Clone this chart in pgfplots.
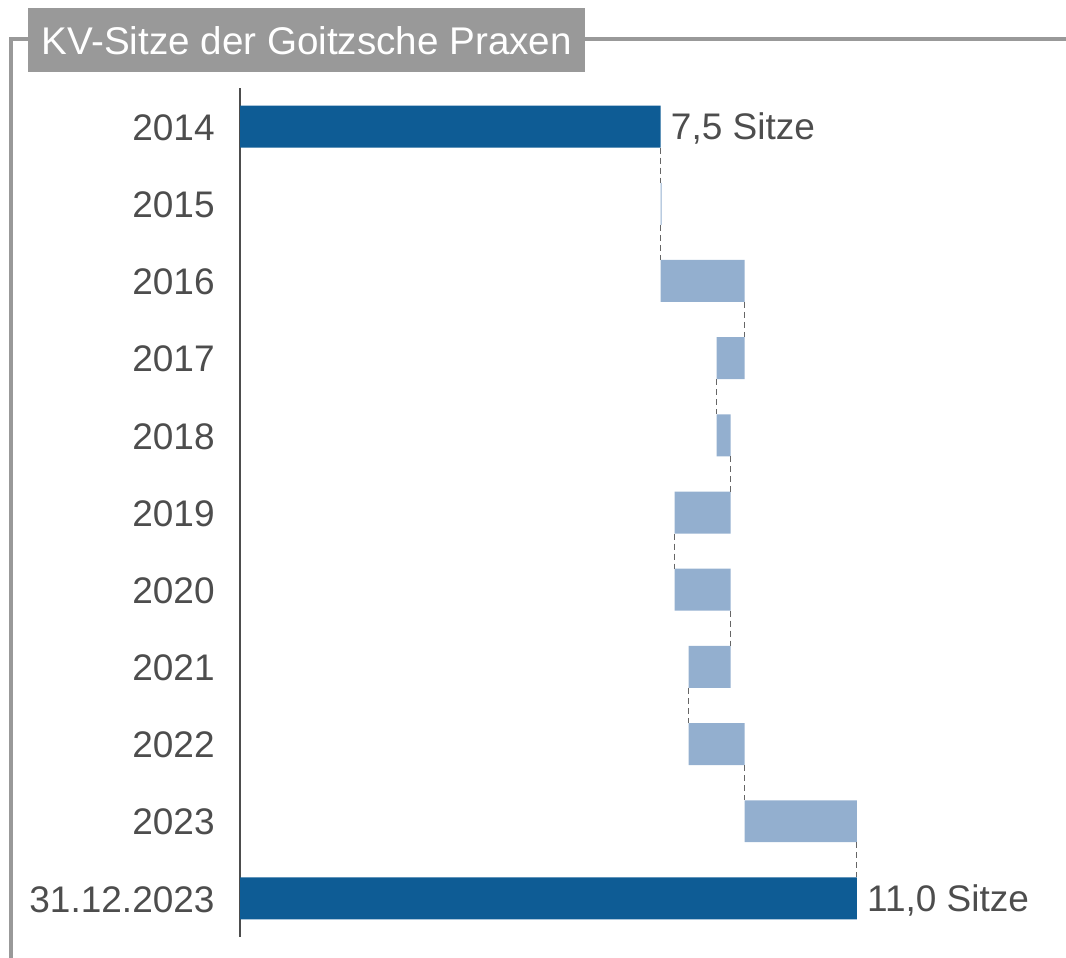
\documentclass[border=0pt]{standalone}
\usepackage{fontspec}
\setmainfont{Liberation Sans}
\usepackage{pgfplots}
\pgfplotsset{compat=1.18}

\definecolor{darkbar}{HTML}{0E5C95}
\definecolor{lightbar}{HTML}{93AFCF}
\definecolor{framegray}{HTML}{999999}
\definecolor{txtgray}{HTML}{4D4D4D}
\definecolor{conngray}{HTML}{666666}

\newcommand{\lblfont}{\fontsize{18.5}{22}\selectfont}
\newcommand{\ttlfont}{\fontsize{19.3}{22}\selectfont}

\begin{document}
\begin{tikzpicture}
\useasboundingbox (0,0) rectangle (533pt,-479pt);

% frame and title tab
\draw[framegray, line width=2.4pt] (5.5pt,-479pt) -- (5.5pt,-19.5pt) -- (533pt,-19.5pt);
\node[fill=framegray, text=white, anchor=north west, minimum width=278.5pt,
      minimum height=32pt, inner sep=0pt, font=\ttlfont] at (14pt,-4pt)
      {KV-Sitze der Goitzsche Praxen};

\pgfplotsset{waterfall/.style={
    at={(120pt,-44pt)}, anchor=north west,
    scale only axis, width=392.5pt, height=424.5pt,
    xmin=0, xmax=14, ymin=-0.5, ymax=10.5,
    y dir=reverse, clip=false,
}}

% changes (floating bars)
\begin{axis}[
    waterfall,
    xbar stacked,
    bar width=0.544,
    axis x line=none,
    axis y line*=left,
    axis line style={-, draw=txtgray, line width=0.8pt},
    ytick={0,1,2,3,4,5,6,7,8,9,10},
    yticklabels={2014,2015,2016,2017,2018,2019,2020,2021,2022,2023,31.12.2023},
    major tick length=0pt,
    yticklabel style={anchor=east, inner sep=0pt, xshift=-12.5pt, yshift=-0.5pt, font=\lblfont, text=txtgray},
]
\addplot[draw=none, fill=none] coordinates {
    (7.5,1) (7.5,2) (8.5,3) (8.5,4) (7.75,5) (7.75,6) (8.0,7) (8.0,8) (9.0,9)
};
\addplot[draw=none, fill=lightbar] coordinates {
    (0.02,1) (1.5,2) (0.5,3) (0.25,4) (1.0,5) (1.0,6) (0.75,7) (1.0,8) (2.0,9)
};
\end{axis}

% totals and connectors
\begin{axis}[
    waterfall,
    hide axis,
]
\addplot[densely dashed, draw=conngray, line width=0.5pt, unbounded coords=jump] coordinates {
    (7.5,0.272) (7.5,0.728) (7.5,nan)
    (7.5,1.272) (7.5,1.728) (7.5,nan)
    (9.0,2.272) (9.0,2.728) (9.0,nan)
    (8.5,3.272) (8.5,3.728) (8.5,nan)
    (8.75,4.272) (8.75,4.728) (8.75,nan)
    (7.75,5.272) (7.75,5.728) (7.75,nan)
    (8.75,6.272) (8.75,6.728) (8.75,nan)
    (8.0,7.272) (8.0,7.728) (8.0,nan)
    (9.0,8.272) (9.0,8.728) (9.0,nan)
    (11.0,9.272) (11.0,9.728)
};
\addplot[xbar, bar shift=0pt, bar width=0.544, fill=darkbar, draw=none,
    point meta=explicit symbolic,
    nodes near coords,
    nodes near coords style={anchor=west, inner sep=0pt, xshift=5pt, yshift=-1pt, font=\lblfont, text=txtgray},
] coordinates {
    (7.5,0) [7,5 Sitze]
    (11.0,10) [11,0 Sitze]
};
\end{axis}
\end{tikzpicture}
\end{document}
